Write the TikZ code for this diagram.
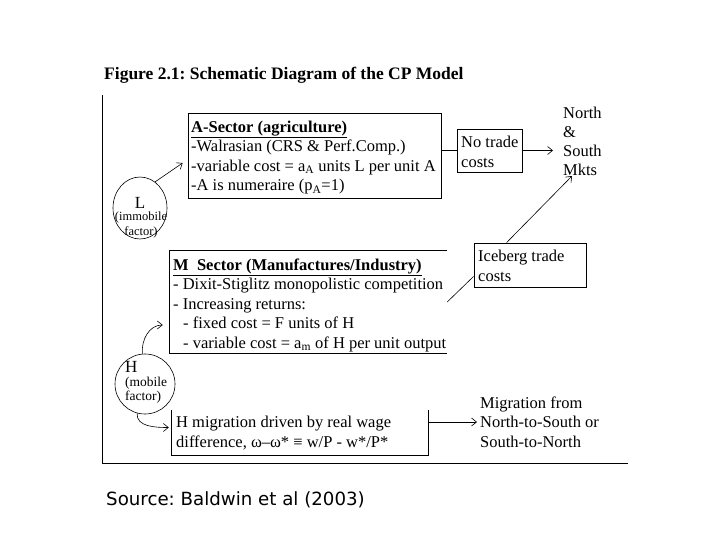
\documentclass[tikz,border=0pt]{standalone}
\usepackage{fontspec}
\setmainfont{Liberation Serif}
\newfontfamily\srcfont{DejaVu Sans}
\usetikzlibrary{shapes.geometric,arrows.meta,calc}
\frenchspacing
\begin{document}
\begin{tikzpicture}[x=1pt,y=-1pt,
  box/.style={draw, line width=0.8pt, inner sep=0},
  frame/.style={line width=0.8pt},
  txt/.style={anchor=west, inner sep=0, align=left, font=\fontsize{16.5}{19.5}\selectfont},
  small/.style={inner sep=0, align=center, font=\fontsize{12.5}{14.5}\selectfont},
  circ/.style={draw, ellipse, inner sep=0, line width=0.6pt},
  arr/.style={-{Straight Barb[length=5pt,width=8pt]}, line width=0.6pt},
  ln/.style={line width=0.6pt}]
\useasboundingbox (0,0) rectangle (720,540);
\fill[white] (0,0) rectangle (720,540);

% title
\node[anchor=west, inner sep=0, font=\fontsize{17.5}{19}\selectfont\bfseries] (title) at (104,75) {Figure 2.1: Schematic Diagram of the CP Model};

% outer frame (left and bottom)
\draw[frame] (102,95) -- (102,463) -- (628,463);

% A sector
\node[box, minimum width=253pt, minimum height=85pt] (A) at (314.5,155.5) {};
\node[txt] (At) at (191,157.5) {\textbf{\underline{A-Sector (agriculture)}}\\-Walrasian (CRS \& Perf.Comp.)\\-variable cost = a\textsubscript{A} units L per unit A\\-A is numeraire (p\textsubscript{A}=1)};

% No trade costs
\node[box, minimum width=65pt, minimum height=43pt] (NT) at (489.5,150.5) {};
\node[txt] (NTt) at (461,152) {No trade\\costs};

% Markets
\node[txt, font=\fontsize{16.5}{19}\selectfont] (mk) at (563,141.5) {North\\\&\\South\\Mkts};

% Iceberg
\node[box, minimum width=112pt, minimum height=44pt] (ice) at (530,265) {};
\node[txt] (icet) at (478,266) {Iceberg trade\\costs};

% L circle
\node[circ, minimum width=54pt, minimum height=62pt] (L) at (140,208) {};
\node[inner sep=0, font=\fontsize{17}{17}\selectfont] (Ll) at (140,203) {L};
\node[small] (Lt) at (141,225) {(immobile\\factor)};

% M sector
\node[inner sep=0, minimum width=277pt, minimum height=102pt] (M) at (308.5,302) {};
\draw[frame] (M.north east) -- (M.north west) -- (M.south west) -- (M.south east);
\node[txt] (Mt) at (173,305) {\textbf{\underline{M\ \ Sector (Manufactures/Industry)}}\\- Dixit-Stiglitz monopolistic competition\\- Increasing returns:\\\hspace{10pt}- fixed cost = F units of H\\\hspace{10pt}- variable cost = a\textsubscript{m} of H per unit output};

% H circle
\node[circ, minimum width=60pt, minimum height=60pt] (H) at (145,384) {};
\node[inner sep=0, anchor=west, align=left, font=\fontsize{13.5}{14}\selectfont] (Ht) at (125,382) {{\fontsize{17}{15}\selectfont H}\\(mobile\\factor)};

% H migration box
\node[inner sep=0, minimum width=256pt, minimum height=45pt] (mig) at (300,432.5) {};
\draw[frame] (mig.north west) -- (mig.south west) -- (mig.south east) -- (mig.north east);
\node[txt] (migt) at (176,433) {H migration driven by real wage\\difference, ω–ω* ≡ w/P - w*/P*};

% Migration text
\node[txt] (mt) at (480,422) {Migration from\\North-to-South or\\South-to-North};

% Source
\node[anchor=west, inner sep=0, font=\srcfont\fontsize{18.2}{20}\selectfont] (src) at (106,500) {Source: Baldwin et al (2003)};

% connectors
\draw[arr] (L.60) -- ([xshift=-5pt,yshift=-7.5pt]A.west);
\draw[ln] (A.east |- NT.west) -- (NT.west);
\draw[arr] (NT.east) -- ([xshift=-10pt]NT.east -| mk.west);
\coordinate (iceTop) at ([xshift=33pt]ice.north west);
\draw[arr] (iceTop) -- ([xshift=9pt]mk.south west);
\draw[ln] (M.east) -- ([yshift=11pt]ice.south west);
\draw[arr] (H.95) to[out=95,in=180] ([xshift=-7pt,yshift=-23pt]M.west);
\draw[arr] (H.255) to[out=265,in=180] ([xshift=-3pt,yshift=5pt]mig.west);
\draw[arr] (mig.east |- mt.west) -- ([xshift=-3pt]mt.west);
\end{tikzpicture}
\end{document}
